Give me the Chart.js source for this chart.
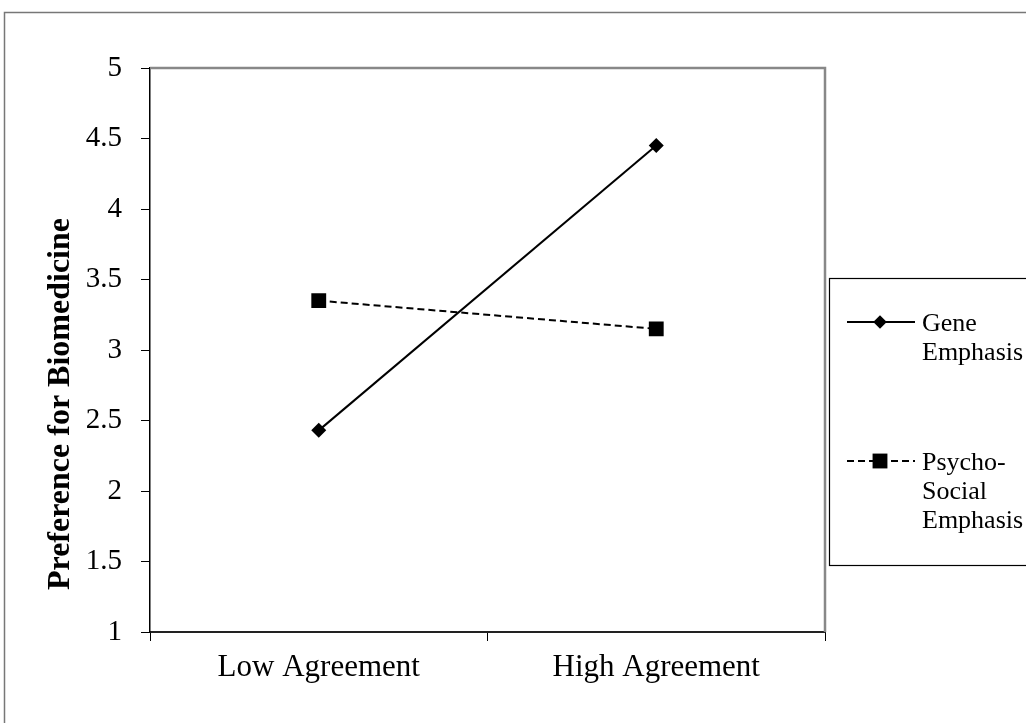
<!DOCTYPE html>
<html>
<head>
<meta charset="utf-8">
<script src="https://cdn.jsdelivr.net/npm/chart.js@4/dist/chart.umd.min.js"></script>
<style>
  html, body { margin: 0; padding: 0; background: #fff; }
  #box { width: 1026px; height: 723px; position: relative; }
</style>
</head>
<body>
<div id="box"><canvas id="grafico" width="1026" height="723"></canvas></div>
<script>
const categorias = ['Low Agreement', 'High Agreement'];
const serieGene = [2.43, 4.45];
const seriePsico = [3.35, 3.15];
const nomesSeries = [['Gene', 'Emphasis'], ['Psycho-', 'Social', 'Emphasis']];
const tituloY = 'Preference for Biomedicine';

const fonteSerif = '"Liberation Serif", "Times New Roman", serif';

// moldura externa, borda do gráfico, título do eixo e legenda
const pluginMoldura = {
  id: 'moldura',
  beforeDraw(chart) {
    const ctx = chart.ctx;
    ctx.save();
    ctx.fillStyle = '#fff';
    ctx.fillRect(0, 0, chart.width, chart.height);
    ctx.strokeStyle = '#777';
    ctx.lineWidth = 1.5;
    ctx.strokeRect(4.5, 12.5, 1200, 900);
    ctx.restore();
  },
  afterDraw(chart) {
    const ctx = chart.ctx;
    const a = chart.chartArea;
    ctx.save();
    ctx.strokeStyle = '#888';
    ctx.lineWidth = 2.5;
    ctx.beginPath();
    ctx.moveTo(a.left, a.top);
    ctx.lineTo(a.right, a.top);
    ctx.lineTo(a.right, a.bottom);
    ctx.stroke();

    // título do eixo Y (um pouco abaixo do centro, como no original)
    ctx.save();
    ctx.translate(61, 404);
    ctx.rotate(-Math.PI / 2);
    ctx.fillStyle = '#000';
    ctx.font = 'bold 32px ' + fonteSerif;
    ctx.textAlign = 'center';
    ctx.textBaseline = 'middle';
    ctx.fillText(tituloY, 0, 0);
    ctx.restore();

    // legenda
    ctx.strokeStyle = '#000';
    ctx.lineWidth = 1.2;
    ctx.strokeRect(829.5, 278.5, 400, 287);
    const posY = [322, 461];
    chart.data.datasets.forEach((ds, i) => {
      const y = posY[i];
      ctx.strokeStyle = ds.borderColor;
      ctx.lineWidth = ds.borderWidth;
      ctx.setLineDash(ds.borderDash || []);
      ctx.beginPath();
      ctx.moveTo(847, y);
      ctx.lineTo(915, y);
      ctx.stroke();
      ctx.setLineDash([]);
      ctx.fillStyle = ds.pointBackgroundColor;
      Chart.helpers.drawPoint(ctx, {
        pointStyle: ds.pointStyle,
        radius: ds.pointStyle === 'rect' ? ds.pointRadius : ds.pointRadius * 0.9,
        rotation: 0,
        borderWidth: 0
      }, 880, y);
      ctx.fillStyle = '#000';
      ctx.font = '26px ' + fonteSerif;
      ctx.textBaseline = 'middle';
      ctx.textAlign = 'left';
      nomesSeries[i].forEach((t, k) => ctx.fillText(t, 922, y + 2 + k * 29));
    });
    ctx.restore();
  }
};

const ctx = document.getElementById('grafico').getContext('2d');
new Chart(ctx, {
  type: 'line',
  data: {
    labels: categorias,
    datasets: [
      {
        label: nomesSeries[0].join(' '),
        data: serieGene,
        borderColor: '#000',
        borderWidth: 2,
        pointStyle: 'rectRot',
        pointRadius: 7.5,
        pointBackgroundColor: '#000',
        pointBorderColor: '#000',
        pointBorderWidth: 0,
        tension: 0
      },
      {
        label: nomesSeries[1].join(' '),
        data: seriePsico,
        borderColor: '#000',
        borderWidth: 2,
        borderDash: [7, 4],
        pointStyle: 'rect',
        pointRadius: 10.5,
        pointBackgroundColor: '#000',
        pointBorderColor: '#000',
        pointBorderWidth: 0,
        tension: 0
      }
    ]
  },
  options: {
    responsive: false,
    animation: false,
    devicePixelRatio: 1,
    layout: { padding: { left: 0, right: 201, top: 68, bottom: 0 } },
    plugins: {
      legend: { display: false },
      tooltip: { enabled: false }
    },
    scales: {
      x: {
        offset: true,
        afterFit(s) { s.height = 91; },
        grid: {
          offset: true,
          drawOnChartArea: false,
          drawTicks: true,
          tickLength: 9,
          color: '#000'
        },
        border: { color: '#222', width: 2 },
        ticks: {
          color: '#000',
          padding: 8,
          font: { family: fonteSerif, size: 31 }
        }
      },
      y: {
        min: 1,
        max: 5,
        afterFit(s) { s.width = 150; },
        grid: {
          drawOnChartArea: false,
          drawTicks: true,
          tickLength: 9,
          color: '#000'
        },
        border: { color: '#000', width: 1.5 },
        ticks: {
          stepSize: 0.5,
          color: '#000',
          padding: 19,
          font: { family: fonteSerif, size: 29 },
          callback: v => String(v)
        }
      }
    }
  },
  plugins: [pluginMoldura]
});
</script>
</body>
</html>
